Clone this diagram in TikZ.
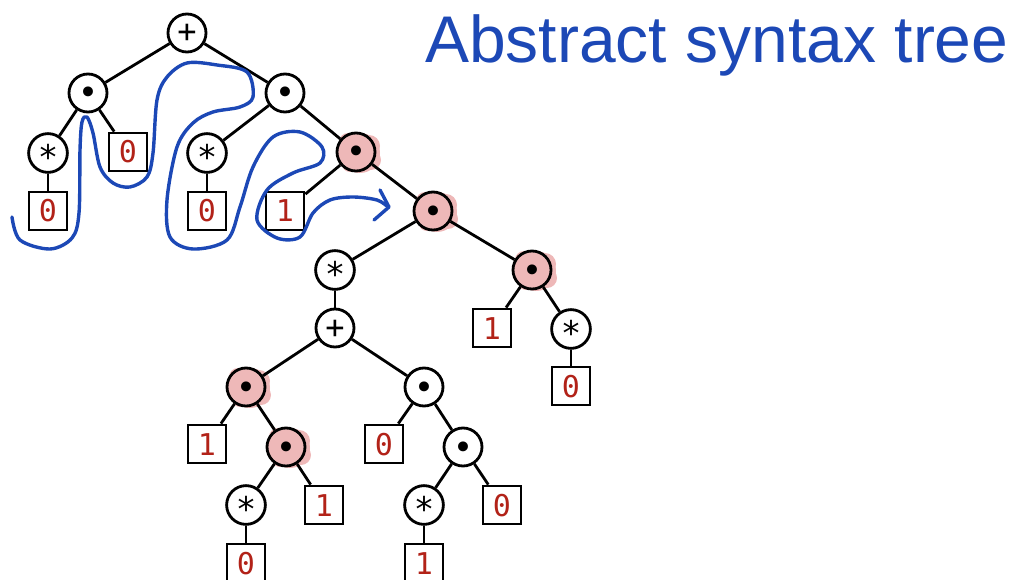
\documentclass[tikz,border=0pt]{standalone}
\usepackage{fontspec}
\setmainfont{Liberation Sans}
\newfontfamily\monof{DejaVu Sans Mono}
\usetikzlibrary{backgrounds}
\definecolor{numred}{RGB}{178,34,24}
\definecolor{hl}{RGB}{238,184,184}
\definecolor{ink}{RGB}{28,72,182}
\tikzset{
  x=1pt, y=-1pt,
  op/.style={circle, draw=black, line width=2.8pt, minimum size=38pt, inner sep=0pt,
    fill=white, font=\monof\fontsize{30}{30}\selectfont, text height=20pt, text depth=0pt},
  starop/.style={op, font=\monof\fontsize{34}{34}\selectfont, text height=33pt, text depth=-14pt},
  plusop/.style={op, font=\monof\fontsize{32}{32}\selectfont, text height=20pt},
  dotop/.style={op, font=\monof\fontsize{34}{34}\selectfont, text height=24pt},
  hdot/.style={dotop, fill=hl},
  leaf/.style={rectangle, draw=black, line width=2.8pt, minimum width=38pt, minimum height=38pt,
    inner sep=0pt, fill=white, text=numred, font=\monof\fontsize{30}{30}\selectfont,
    text height=22pt, text depth=0pt},
  edge/.style={line width=2.8pt},
  pen/.style={ink, line width=3.4pt, line cap=round, line join=round},
}
\newcommand{\hlblob}[1]{%
  \fill[hl] (#1) ++(4,1) circle (20pt);
  \fill[hl] (#1) ++(13,-6) circle (11pt);
  \fill[hl] (#1) ++(15,8) circle (10pt);
  \fill[hl] (#1) ++(-8,-10) circle (9pt);
  \fill[hl] (#1) ++(-6,12) circle (8pt);
}
\begin{document}
\begin{tikzpicture}
\useasboundingbox (0,0) rectangle (1022,580);
% nodes
\node[plusop] (R) at (187,33) {+};
\node[dotop] (A) at (88,93) {•};
\node[dotop] (B) at (285,93) {•};
\node[starop] (As) at (48,153) {*};
\node[leaf] (A0) at (128,152) {0};
\node[leaf] (As0) at (48,211) {0};
\node[starop] (Bs) at (207,153) {*};
\node[leaf] (Bs0) at (207,211) {0};
\node[hdot] (C) at (356,152) {•};
\node[leaf] (C1) at (285,211) {1};
\node[hdot] (D) at (433,211) {•};
\node[starop] (E) at (335,270) {*};
\node[hdot] (F) at (532,270) {•};
\node[leaf] (F1) at (492,328) {1};
\node[starop] (Fs) at (571,329) {*};
\node[leaf] (Fs0) at (571,386) {0};
\node[plusop] (G) at (335,328) {+};
\node[hdot] (H) at (246,387) {•};
\node[dotop] (I) at (424,387) {•};
\node[leaf] (H1) at (207,444) {1};
\node[hdot] (J) at (286,447) {•};
\node[starop] (Js) at (246,505) {*};
\node[leaf] (J1) at (324,505) {1};
\node[leaf] (Js0) at (246,563) {0};
\node[leaf] (I0) at (384,444) {0};
\node[dotop] (K) at (463,447) {•};
\node[starop] (Ks) at (424,505) {*};
\node[leaf] (K0) at (502,505) {0};
\node[leaf] (Ks1) at (424,563) {1};
% highlights
\begin{pgfonlayer}{background}
  \hlblob{C}\hlblob{D}\hlblob{F}\hlblob{H}\hlblob{J}
\end{pgfonlayer}
% edges
\foreach \a/\b in {R/A,R/B,A/As,A/A0,As/As0,B/Bs,B/C,Bs/Bs0,C/C1,C/D,D/E,D/F,F/F1,F/Fs,Fs/Fs0,
  E/G,G/H,G/I,H/H1,H/J,J/Js,J/J1,Js/Js0,I/I0,I/K,K/Ks,K/K0,Ks/Ks1}
  \draw[edge] (\a) -- (\b);
% title
\node[anchor=base west, inner sep=0pt, text=ink, font=\fontsize{66}{66}\selectfont] (T) at (425,63) {Abstract syntax tree};
% traversal curve
\coordinate (s) at (12,217);
\coordinate (e) at (388,207);
\draw[pen] plot[smooth, tension=0.55] coordinates {
 (12,217) (20,240) (50,249) (72,238) (79,213) (80,150) (82,122) (87,117) (93,133)
 (100,167) (113,183) (130,187) (147,177) (153,153) (157,100) (167,77) (187,63)
 (217,65) (247,72) (253,97) (240,107) (213,112) (193,123) (177,147) (167,200)
 (170,237) (193,249) (227,240) (240,207) (253,167) (273,137) (300,132) (322,147)
 (320,163) (293,173) (267,190) (257,220) (277,238) (300,237) (313,213) (330,200)
 (353,197) (377,200) (388,207)};
\draw[pen] (380,190) -- (389,207) -- (374,220);
\end{tikzpicture}
\end{document}
